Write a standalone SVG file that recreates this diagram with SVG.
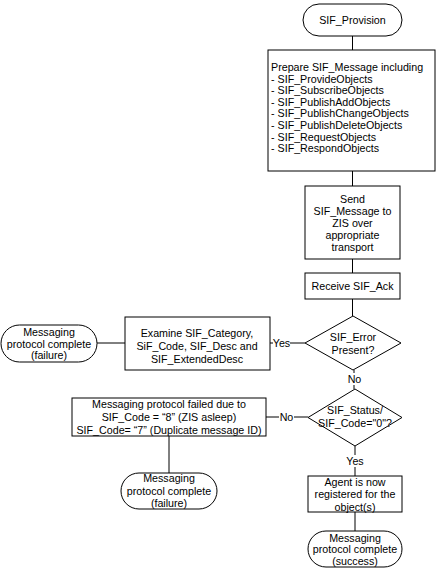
<svg xmlns="http://www.w3.org/2000/svg" width="437" height="570" viewBox="0 0 437 570">
<style>
.s{fill:#fff;stroke:#000;stroke-width:1}
.c{fill:none;stroke:#000;stroke-width:1}
text{font-family:"Liberation Sans",Arial,sans-serif;font-size:10.7px;fill:#000}
.m{text-anchor:middle}
.lb{fill:#fff;stroke:none}
</style>
<rect width="437" height="570" fill="#fff"/>
<g id="connectors">
<line class="c" x1="352.5" y1="36" x2="352.5" y2="50"/>
<line class="c" x1="352.5" y1="171" x2="352.5" y2="186"/>
<line class="c" x1="352.5" y1="259" x2="352.5" y2="273"/>
<line class="c" x1="352.5" y1="299" x2="352.5" y2="316"/>
<line class="c" x1="270" y1="343" x2="305" y2="343"/>
<rect class="lb" x="273" y="337" width="17" height="12"/>
<text class="m" x="281.5" y="347">Yes</text>
<line class="c" x1="97" y1="343" x2="125" y2="343"/>
<line class="c" x1="354" y1="370" x2="354" y2="389"/>
<rect class="lb" x="347" y="373" width="15" height="12"/>
<text class="m" x="354.5" y="383">No</text>
<line class="c" x1="266" y1="417" x2="308" y2="417"/>
<rect class="lb" x="279" y="411" width="15" height="12"/>
<text class="m" x="286.5" y="421">No</text>
<line class="c" x1="169" y1="436" x2="169" y2="473"/>
<line class="c" x1="355" y1="446" x2="355" y2="476"/>
<rect class="lb" x="346" y="455" width="18" height="12"/>
<text class="m" x="355" y="465">Yes</text>
<line class="c" x1="355" y1="512" x2="355" y2="531"/>
</g>
<g id="start">
<rect class="s" x="303" y="4" width="99" height="32" rx="16" ry="16"/>
<text class="m" x="352.5" y="24">SIF_Provision</text>
</g>
<g id="prepare">
<rect class="s" x="268" y="50" width="167" height="121"/>
<text x="271" y="71">Prepare SIF_Message including</text>
<text x="271" y="82.6">- SIF_ProvideObjects</text>
<text x="271" y="94.2">- SIF_SubscribeObjects</text>
<text x="271" y="105.8">- SIF_PublishAddObjects</text>
<text x="271" y="117.4">- SIF_PublishChangeObjects</text>
<text x="271" y="129">- SIF_PublishDeleteObjects</text>
<text x="271" y="140.6">- SIF_RequestObjects</text>
<text x="271" y="152.2">- SIF_RespondObjects</text>
</g>
<g id="send">
<rect class="s" x="305" y="186" width="95" height="73"/>
<text class="m" x="352.5" y="203">Send</text>
<text class="m" x="352.5" y="215">SIF_Message to</text>
<text class="m" x="352.5" y="227">ZIS over</text>
<text class="m" x="352.5" y="239">appropriate</text>
<text class="m" x="352.5" y="251">transport</text>
</g>
<g id="receive">
<rect class="s" x="305" y="273" width="95" height="26"/>
<text class="m" x="352.5" y="290">Receive SIF_Ack</text>
</g>
<g id="error">
<polygon class="s" points="353,316 401,343 353,370 305,343"/>
<text class="m" x="353" y="341">SIF_Error</text>
<text class="m" x="353" y="354">Present?</text>
</g>
<g id="examine">
<rect class="s" x="125" y="317" width="145" height="53"/>
<text class="m" x="197" y="337">Examine SIF_Category,</text>
<text class="m" x="197" y="350">SiF_Code, SIF_Desc and</text>
<text class="m" x="197" y="363">SIF_ExtendedDesc</text>
</g>
<g id="fail1">
<rect class="s" x="1" y="325" width="96" height="37" rx="18.5" ry="18.5"/>
<text class="m" x="49" y="336">Messaging</text>
<text class="m" x="49" y="347.5">protocol complete</text>
<text class="m" x="49" y="359">(failure)</text>
</g>
<g id="status">
<polygon class="s" points="355,389 402,417.5 355,446 308,417.5"/>
<text class="m" x="355" y="414">SIF_Status/</text>
<text class="m" x="355" y="427">SIF_Code="0"?</text>
</g>
<g id="failed">
<rect class="s" x="72" y="398" width="194" height="38"/>
<text class="m" x="169" y="408">Messaging protocol failed due to</text>
<text class="m" x="169" y="421">SIF_Code = “8” (ZIS asleep)</text>
<text class="m" x="169" y="434">SIF_Code= “7” (Duplicate message ID)</text>
</g>
<g id="fail2">
<rect class="s" x="121" y="473" width="96" height="36" rx="18" ry="18"/>
<text class="m" x="169" y="482">Messaging</text>
<text class="m" x="169" y="495">protocol complete</text>
<text class="m" x="169" y="507">(failure)</text>
</g>
<g id="agent">
<rect class="s" x="308" y="476" width="94" height="36"/>
<text class="m" x="355" y="486">Agent is now</text>
<text class="m" x="355" y="498">registered for the</text>
<text class="m" x="355" y="511">object(s)</text>
</g>
<g id="success">
<rect class="s" x="308" y="531" width="94" height="36" rx="18" ry="18"/>
<text class="m" x="355" y="542">Messaging</text>
<text class="m" x="355" y="553">protocol complete</text>
<text class="m" x="355" y="565">(success)</text>
</g>
</svg>
